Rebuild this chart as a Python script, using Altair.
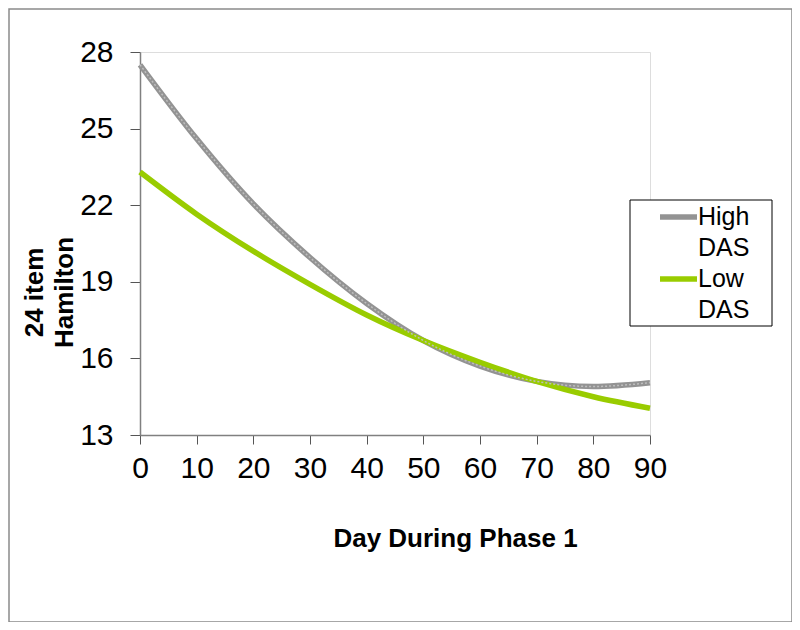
import altair as alt
import pandas as pd

days = [0, 10, 20, 30, 40, 50, 60, 70, 80, 90]
high_das = [27.5, 24.6, 22.05, 19.95, 18.15, 16.7, 15.7, 15.1, 14.9, 15.05]
low_das = [23.3, 21.65, 20.2, 18.9, 17.7, 16.7, 15.85, 15.1, 14.5, 14.05]
series_names = ["High DAS", "Low DAS"]
legend_labels = ["High\nDAS", "Low\nDAS"]
colors = ["#939393", "#99cc00"]
y_ticks = [13, 16, 19, 22, 25, 28]
x_ticks = [0, 10, 20, 30, 40, 50, 60, 70, 80, 90]

rows = []
for d, h, l in zip(days, high_das, low_das):
    rows.append({"day": d, "value": h, "series": series_names[0]})
    rows.append({"day": d, "value": l, "series": series_names[1]})
df = pd.DataFrame(rows)

W, H = 510, 383
FONT = "Liberation Sans, Arial, Helvetica"

x_enc = alt.X("day:Q",
              scale=alt.Scale(domain=[0, 90], nice=False, zero=False),
              axis=alt.Axis(values=x_ticks, title="Day During Phase 1", grid=False,
                            labelFont=FONT, labelFontSize=30, labelPadding=9,
                            labelFlush=False, labelOverlap=False,
                            labelColor="#000", tickSize=9, tickColor="#555",
                            domainColor="#808080", domainWidth=1.5,
                            titleFont=FONT, titleFontSize=26, titleFontWeight="bold",
                            titleColor="#000", titleX=315, titleY=103,
                            titleBaseline="middle", titleAlign="center"))
y_enc = alt.Y("value:Q",
              scale=alt.Scale(domain=[13, 28], nice=False, zero=False),
              axis=alt.Axis(values=y_ticks, title=["24 item", "Hamilton"], grid=False,
                            labelFont=FONT, labelFontSize=30, labelPadding=17,
                            labelFlush=False, labelOverlap=False,
                            labelColor="#000", tickSize=10, tickColor="#555",
                            domainColor="#808080", domainWidth=1.5,
                            titleFont=FONT, titleFontSize=26, titleFontWeight="bold",
                            titleColor="#000", titleLineHeight=30, titleX=-106,
                            titleY=240, titleBaseline="middle", titleAlign="center",
                            titleAngle=270))
color_enc = alt.Color("series:N", scale=alt.Scale(domain=series_names, range=colors),
                      legend=None)

lines = alt.Chart(df).mark_line(interpolate="monotone", strokeWidth=5.5).encode(
    x=x_enc, y=y_enc, color=color_enc, detail="series:N")

texture = alt.Chart(df[df.series == series_names[0]]).mark_line(
    interpolate="monotone", strokeWidth=1.5, color="#bdbdbd", strokeDash=[2, 2]
).encode(x="day:Q", y="value:Q")

# outer frame
frame = alt.Chart(pd.DataFrame({"a": [0]})).mark_rect(
    fill=None, stroke="#8a8a8a", strokeWidth=1.5
).encode(x=alt.value(-131), x2=alt.value(652), y=alt.value(-43), y2=alt.value(570))

# legend
leg_x0, leg_y0 = 490, 148
legend_layers = [
    alt.Chart(pd.DataFrame({"a": [0]})).mark_rect(
        fill="white", stroke="#000", strokeWidth=1
    ).encode(x=alt.value(leg_x0), x2=alt.value(leg_x0 + 142),
             y=alt.value(leg_y0), y2=alt.value(leg_y0 + 126))
]
for i, (name, lab, col) in enumerate(zip(series_names, legend_labels, colors)):
    yc = leg_y0 + 17 + i * 62
    legend_layers.append(
        alt.Chart(pd.DataFrame({"series": [name]})).mark_rule(
            color=col, strokeWidth=5.5
        ).encode(x=alt.value(leg_x0 + 30), x2=alt.value(leg_x0 + 67), y=alt.value(yc)))
    legend_layers.append(
        alt.Chart(pd.DataFrame({"label": [lab]})).mark_text(
            align="left", baseline="middle", lineBreak="\n", lineHeight=31,
            font=FONT, fontSize=25, color="#000"
        ).encode(x=alt.value(leg_x0 + 68), y=alt.value(yc), text="label:N"))

chart = alt.layer(frame, lines, texture, *legend_layers).properties(
    width=W, height=H,
    autosize=alt.AutoSizeParams(type="none"),
    padding={"left": 132, "top": 44, "right": 142, "bottom": 187},
).configure_view(stroke=None).configure(background="white")

chart.save("out.html", embed_options={"renderer": "svg", "actions": False})
